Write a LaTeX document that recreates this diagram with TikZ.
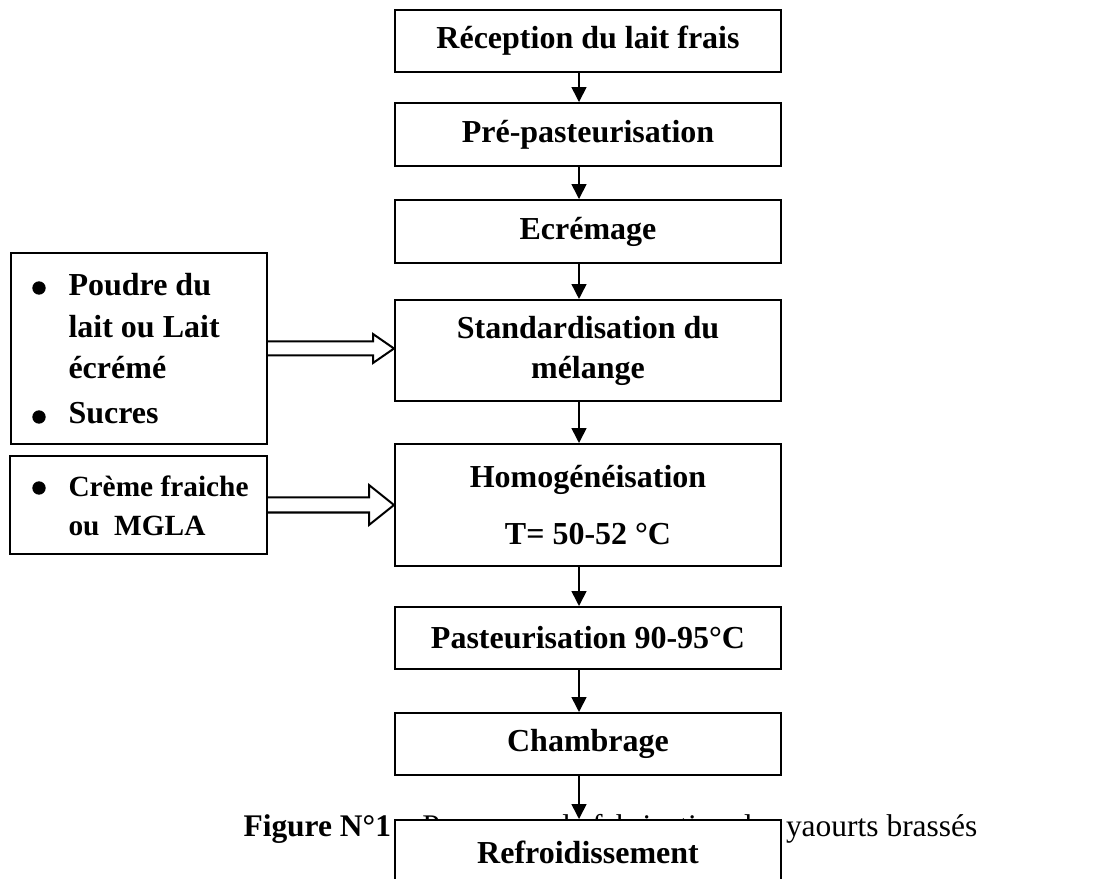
\documentclass[tikz,border=0pt]{standalone}
\usepackage{fontspec}
\setmainfont{Liberation Serif}
\usetikzlibrary{arrows.meta,calc}
\begin{document}
\begin{tikzpicture}[x=0.375pt,y=-0.375pt,
  proc/.style={draw, line width=0.75pt, fill=white, minimum width=144.75pt, inner sep=0pt, align=center, font=\bfseries\fontsize{12}{15}\selectfont},
  side/.style={draw, line width=0.75pt, inner sep=0pt},
  flow/.style={line width=0.6pt, -{Triangle[width=5.6pt,length=5.6pt]}},
  hollow/.style={line width=0.75pt, fill=white},
  itemtxt/.style={anchor=base west, inner sep=0pt, font=\bfseries\fontsize{12}{15}\selectfont},
  itemsmall/.style={anchor=base west, inner sep=0pt, font=\bfseries\fontsize{11}{14}\selectfont},
  bul/.style={circle, fill, inner sep=0pt, minimum size=5pt}
]
\useasboundingbox (0,0) rectangle (1104,879);
% caption (partly hidden by the last box)
\node[anchor=base west, inner sep=0pt, font=\fontsize{11.8}{15}\selectfont] (cap) at (243,836) {\textbf{Figure N°1} – Processus de fabrication des yaourts brassés};
% main chain
\node[proc, minimum height=23.25pt] (b1) at (588,41) {Réception du lait frais};
\node[proc, minimum height=23.6pt] (b2) at (588,134.5) {Pré-pasteurisation};
\node[proc, minimum height=23.6pt] (b3) at (588,231.5) {Ecrémage};
\node[proc, minimum height=37.9pt] (b4) at (588,350.5) {Standardisation du\\mélange};
\node[proc, minimum height=45.75pt] (b5) at (588,505) {Homogénéisation\\[6.4pt]T= 50-52 °C};
\node[proc, minimum height=23.25pt] (b6) at (588,638) {Pasteurisation 90-95°C};
\node[proc, minimum height=23.25pt] (b7) at (588,744) {Chambrage};
\node[proc, minimum height=24pt] (b8) at (588,852) {Refroidissement};
% side inputs
\node[side, minimum width=96pt, minimum height=71.6pt] (l1) at (139,348.5) {};
\node[side, minimum width=96.4pt, minimum height=36.75pt] (l2) at (138.5,505) {};
\node[bul] (l1p) at (39,288) {};
\node[itemtxt] (l1a) at (68,296) {Poudre du};
\node[itemtxt] (l1b) at (68,338) {lait ou Lait};
\node[itemtxt] (l1c) at (68,379) {écrémé};
\node[bul] (l1q) at (39,417) {};
\node[itemtxt] (l1d) at (68,424) {Sucres};
\node[bul] (l2p) at (39,488) {};
\node[itemsmall] (l2a) at (68,497) {Crème fraiche};
\node[itemsmall] (l2b) at (68,535) {ou~~MGLA};
% hollow arrows
\draw[hollow] ($(l1.east)+(0,-7)$) -- ($(b4.west|-l1.east)+(-21,-7)$) -- ($(b4.west|-l1.east)+(-21,-14.5)$) -- (b4.west|-l1.east) -- ($(b4.west|-l1.east)+(-21,14.5)$) -- ($(b4.west|-l1.east)+(-21,7)$) -- ($(l1.east)+(0,7)$);
\draw[hollow] ($(l2.east)+(0,-7.5)$) -- ($(b5.west|-l2.east)+(-25,-7.5)$) -- ($(b5.west|-l2.east)+(-25,-20)$) -- (b5.west|-l2.east) -- ($(b5.west|-l2.east)+(-25,20)$) -- ($(b5.west|-l2.east)+(-25,7.5)$) -- ($(l2.east)+(0,7.5)$);
% down arrows
\coordinate (ax) at (579,0);
\foreach \a/\b in {b1/b2,b2/b3,b3/b4,b4/b5,b5/b6,b6/b7,b7/b8}
  \draw[flow] (\a.south -| ax) -- (\b.north -| ax);
\end{tikzpicture}
\end{document}
